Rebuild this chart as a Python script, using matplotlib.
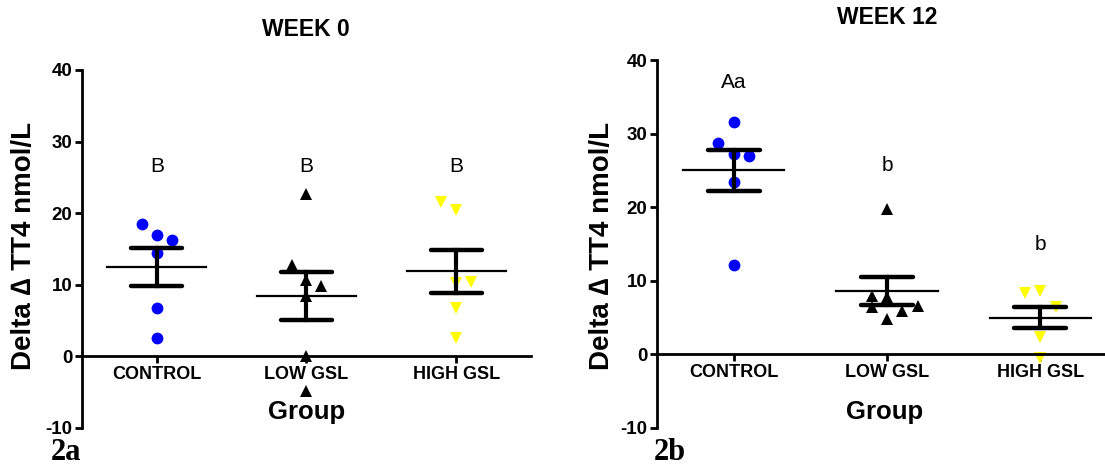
import numpy as np
import matplotlib
matplotlib.use("Agg")
import matplotlib.pyplot as plt

plt.rcParams['font.family'] = ['Liberation Sans', 'DejaVu Sans']

groups = ["CONTROL", "LOW GSL", "HIGH GSL"]
colors = ["#0000ff", "#000000", "#ffff00"]
markers = ["o", "^", "v"]

# week 0 values
w0_control = [18.5, 16.9, 16.2, 14.4, 6.8, 2.5]
w0_low = [22.7, 12.7, 10.6, 9.9, 8.4, 0.1, -4.9]
w0_high = [21.5, 20.4, 10.2, 10.4, 6.8, 2.6]
w0_jitter = [[-0.1, 0, 0.1, 0, 0, 0],
             [0, -0.1, 0, 0.1, 0, 0, 0],
             [-0.1, 0, 0, 0.1, 0, 0]]
w0_mean = [12.5, 8.5, 11.9]
w0_sem = [2.65, 3.35, 3.0]
w0_letters = ["B", "B", "B"]
w0_letter_y = [26.5, 26.5, 26.5]

# week 12
w12_control = [31.6, 28.7, 27.2, 27.0, 23.4, 12.1]
w12_low = [19.8, 8.0, 7.8, 6.4, 5.9, 6.6, 4.8]
w12_high = [8.3, 8.6, 6.5, 2.3, -0.5]
w12_jitter = [[0, -0.1, 0, 0.1, 0, 0],
              [0, -0.1, 0, -0.1, 0.1, 0.2, 0],
              [-0.1, 0, 0.1, 0, 0]]
w12_mean = [25.0, 8.6, 5.0]
w12_sem = [2.75, 1.95, 1.45]
w12_letters = ["Aa", "b", "b"]
w12_letter_y = [37.0, 25.7, 15.0]


def draw_panel(ax, data, jitter, means, sems, letters, letter_y):
    # spine position first, it resets the ticks
    ax.spines["top"].set_visible(False)
    ax.spines["right"].set_visible(False)
    ax.spines["bottom"].set_position(("data", 0))
    ax.spines["left"].set_linewidth(2)
    ax.spines["bottom"].set_linewidth(2)

    for i, vals in enumerate(data):
        x = i + np.array(jitter[i])
        ax.plot(x, vals, linestyle="none", marker=markers[i], color=colors[i],
                markersize=8.5, markeredgewidth=0, zorder=2, clip_on=False)
    for i in range(3):
        m, s = means[i], sems[i]
        ax.plot([i - 0.33, i + 0.33], [m, m], color="black", lw=1.6, zorder=3)
        ax.plot([i, i], [m - s, m + s], color="black", lw=3, zorder=3)
        for yy in (m - s, m + s):
            ax.plot([i - 0.17, i + 0.17], [yy, yy], color="black", lw=3.2,
                    solid_capstyle="round", zorder=3)
        ax.text(i, letter_y[i], letters[i], ha="center", va="center",
                fontsize=15)
    ax.set_xlim(-0.5, 2.5)
    ax.set_ylim(-10, 40)
    ax.set_yticks([-10, 0, 10, 20, 30, 40])
    ax.set_xticks(range(3))
    ax.set_xticklabels(groups, fontsize=13, fontweight="bold")
    ax.set_yticklabels([str(v) for v in [-10, 0, 10, 20, 30, 40]],
                       fontsize=13.5, fontweight="bold")
    ax.tick_params(axis="both", direction="out", length=5, width=2, pad=2)
    ax.set_facecolor("none")


fig = plt.figure(figsize=(11.05, 4.71), dpi=100)
ax1 = fig.add_axes([0.0742, 0.0913, 0.4063, 0.7601])
ax2 = fig.add_axes([0.5946, 0.0913, 0.4163, 0.7813])

draw_panel(ax1, [w0_control, w0_low, w0_high], w0_jitter, w0_mean, w0_sem,
           w0_letters, w0_letter_y)
draw_panel(ax2, [w12_control, w12_low, w12_high], w12_jitter, w12_mean, w12_sem,
           w12_letters, w12_letter_y)

fig.text(306 / 1105, 1 - 29 / 471, "WEEK 0", ha="center", va="center",
         fontsize=16.5, fontweight="bold")
fig.text(887 / 1105, 1 - 18 / 471, "WEEK 12", ha="center", va="center",
         fontsize=16.5, fontweight="bold")

for xc in (307, 885):
    fig.text(xc / 1105, 1 - 412 / 471, "Group", ha="center", va="center",
             fontsize=18.5, fontweight="bold")
for xc in (24, 602):
    fig.text(xc / 1105, 1 - 246 / 471, "Delta \u2206 TT4 nmol/L", ha="center",
             va="center", rotation=90, fontsize=20, fontweight="bold")

fig.text(66 / 1105, 4 / 471, "2a", ha="center", va="bottom", fontsize=22,
         fontweight="bold", family=['Liberation Serif', 'DejaVu Serif'])
fig.text(670 / 1105, 4 / 471, "2b", ha="center", va="bottom", fontsize=22,
         fontweight="bold", family=['Liberation Serif', 'DejaVu Serif'])

fig.savefig("out.png", dpi=100)
